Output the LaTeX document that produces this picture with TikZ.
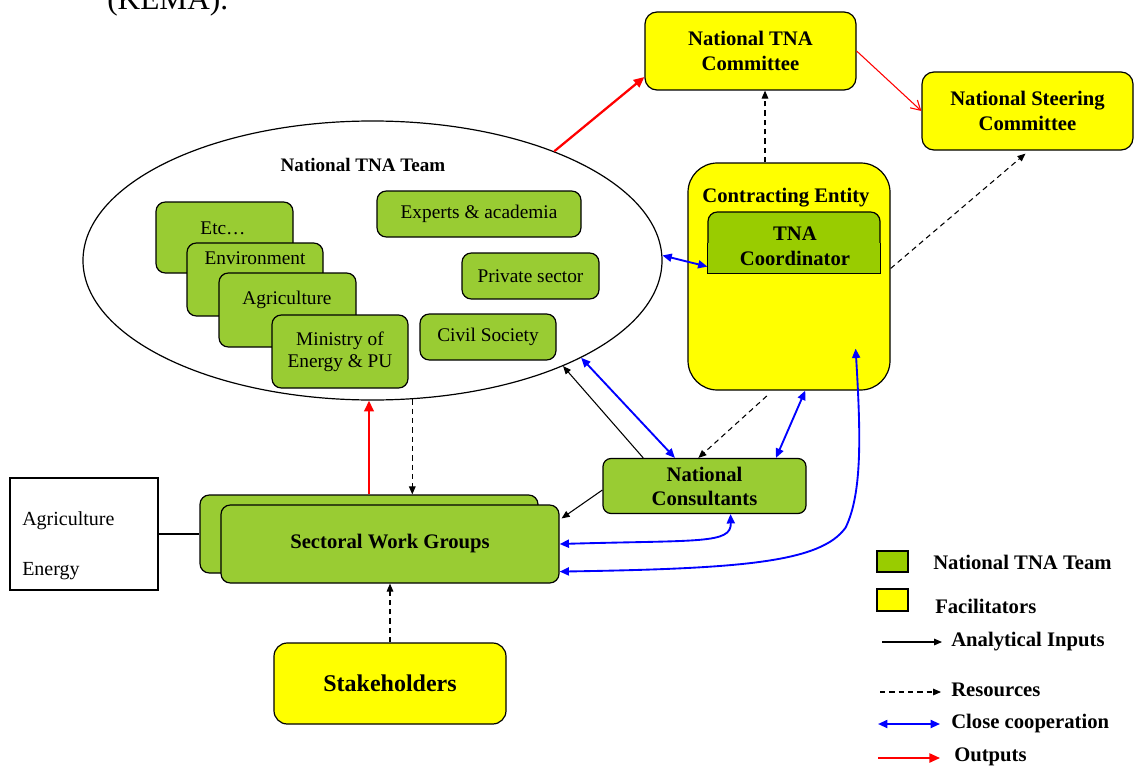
\documentclass[tikz,border=0pt]{standalone}
\usepackage{fontspec}
\setmainfont{Liberation Serif}
\usetikzlibrary{shapes.geometric,arrows.meta,calc}
\definecolor{lgreen}{HTML}{99CC33}
\definecolor{dgreen}{HTML}{99CC00}
\definecolor{yel}{HTML}{FFFF00}
\definecolor{bl}{HTML}{0000FF}
\definecolor{rd}{HTML}{FF0000}
\begin{document}
\begin{tikzpicture}[x=0.75pt,y=-0.75pt,
  wh/.style 2 args={minimum width=#1*0.75pt, minimum height=#2*0.75pt},
  gbox/.style={draw=black, line width=0.9pt, fill=lgreen, rounded corners=7pt, inner sep=0pt, align=center, font=\fontsize{14.5}{16.5}\selectfont},
  ybox/.style={draw=black, line width=0.9pt, fill=yel, rounded corners=9pt, inner sep=0pt, align=center, font=\bfseries\fontsize{15.5}{18.75}\selectfont},
  txt/.style={inner sep=0pt, align=center, font=\fontsize{14.5}{16.5}\selectfont},
  btxt/.style={inner sep=0pt, align=center, font=\bfseries\fontsize{15.5}{18.75}\selectfont},
  ai/.style={-{Triangle[length=6pt,width=5pt]}, line width=0.8pt, black},
  res/.style={ai, dash pattern=on 4pt off 3pt},
  coop/.style={{Triangle[length=7pt,width=6pt]}-{Triangle[length=7pt,width=6pt]}, line width=1.4pt, bl},
  outp/.style={-{Triangle[length=8pt,width=7pt]}, line width=1.7pt, rd},
  outthin/.style={-{Straight Barb[length=7pt,width=8pt]}, line width=0.8pt, rd}
]
\useasboundingbox (0,0) rectangle (1135,767);

% top cut text
\node[anchor=base west, inner sep=0pt, font=\fontsize{23.5}{28}\selectfont] (kema) at (107,9.5) {(KEMA).};

% national TNA team ellipse
\node[ellipse, draw=black, line width=0.9pt, wh={579}{279}, inner sep=0pt] (team) at (372.5,260.5) {};
\node[btxt, font=\bfseries\fontsize{14.3}{17}\selectfont] (teamlbl) at (363,165) {National TNA Team};

% left stack
\node[gbox, wh={137}{71}] (etc) at (224.5,237.5) {};
\node[txt] (etclbl) at (223,228) {Etc\ldots};
\node[gbox, wh={136}{73}] (env) at (255,279.5) {};
\node[txt] (envlbl) at (255,258) {Environment};
\node[gbox, wh={137}{74}] (agr) at (287.5,310) {};
\node[txt] (agrlbl) at (287,300) {Agriculture};
\node[gbox, wh={136}{73}] (min) at (340,351.5) {Ministry of\\Energy \& PU};

\node[gbox, wh={204}{46}] (exp) at (479,214) {Experts \& academia};
\node[gbox, wh={137}{46}] (priv) at (530.5,276) {Private sector};
\node[gbox, wh={136}{46}] (civ) at (488,337) {Civil Society};

% committees
\node[ybox, wh={211}{78}] (ntc) at (750.5,51) {National TNA\\Committee};
\node[ybox, wh={211}{78}] (nsc) at (1027.5,111) {National Steering\\Committee};

% contracting entity
\node[ybox, rounded corners=22pt, wh={202}{227}] (ce) at (789,276.5) {};
\node[btxt] (celbl) at (786,198) {Contracting Entity};
\node[draw=black, line width=0.9pt, fill=dgreen, rounded corners=7pt, wh={172}{61}, inner sep=0pt] (coord) at (794,242.5) {};
\fill[dgreen] (coord.west) rectangle (coord.south east);
\draw[line width=0.9pt] (coord.west) |- (coord.south east) -- (coord.east);
\node[btxt] (coordlbl) at (795,246.5) {TNA\\Coordinator};

% consultants
\node[gbox, rounded corners=6pt, wh={203}{55}, font=\bfseries\fontsize{15.5}{18}\selectfont] (nc) at (704.5,486) {National\\Consultants};

% sectoral work groups
\node[gbox, wh={338}{78}] (swgb) at (369,534) {};
\node[gbox, wh={338}{78}, font=\bfseries\fontsize{15.5}{18}\selectfont] (swgf) at (390,544) {Sectoral Work Groups};

% agriculture / energy box
\node[draw=black, line width=0.8pt, fill=white, wh={148}{112}] (ae) at (84,534) {};
\node[txt, anchor=west, font=\fontsize{15}{18}\selectfont] (aeag) at (22,521) {Agriculture};
\node[txt, anchor=west, font=\fontsize{15}{18}\selectfont] (aeen) at (22,571) {Energy};
\draw[line width=0.8pt] (ae.east) -- (swgb.west);

% stakeholders
\node[ybox, rounded corners=10pt, wh={232}{81}, font=\bfseries\fontsize{18}{21}\selectfont] (stake) at (390,683.5) {Stakeholders};

% connectors
\draw[outp] (team.31) -- ($(ntc.west)+(0,26)$);
\draw[outthin] (ntc.east) -- (nsc.west);
\coordinate (ceTop) at ($(ce.north)+(-24,0)$);
\draw[res] (ceTop) -- (ceTop |- ntc.south);
\draw[res] ($(ce.east)+(0,-8)$) -- ($(nsc.south)+(-2,3)$);
\draw[coop] (team.1) -- ($(coord.south west)+(0,-7)$);
\draw[outp] (swgb.north) -- (swgb.north |- team.south);
\draw[res] (team.286) -- (team.286 |- swgb.north);
\draw[ai] ($(nc.north west)!0.2!(nc.north east)$) -- (team.331);
\draw[coop] (team.335) -- ($(nc.north west)!0.355!(nc.north east)$);
\draw[res, shorten <=6pt] ($(ce.south west)!0.42!(ce.south east)$) -- ($(nc.north west)!0.47!(nc.north east)$);
\draw[coop] ($(ce.south west)!0.58!(ce.south east)$) -- ($(nc.north west)!0.85!(nc.north east)$);
\draw[ai] ($(nc.west)+(0,4)$) -- ($(swgf.north east)+(2,14)$);
\draw[coop] ($(nc.south)+(26,0)$) .. controls +(1,30) and +(140,-4) .. (swgf.east);
\coordinate (bigs) at ($(ce.south east)+(-35,-42)$);
\coordinate (bigm) at ($(ce.south east)+(-45,137)$);
\draw[coop] (bigs) .. controls ($(bigs)+(5,84)$) and ($(bigm)+(17,-35)$) .. (bigm)
  .. controls ($(bigm)+(-25,35)$) and ($(swgf.south east)+(181,-15)$) .. ($(swgf.south east)+(0,-12)$);
\draw[res] (stake.north) -- (swgf.south);

% legend
\node[draw=black, line width=1pt, fill=dgreen, wh={31}{21}, inner sep=0pt] (lg1) at (892.5,561.5) {};
\node[btxt, anchor=west] (lgt1) at (933,562) {National TNA Team};
\node[draw=black, line width=1pt, fill=yel, wh={31}{22}, inner sep=0pt] (lg2) at (892.5,600) {};
\node[btxt, anchor=west] (lgt2) at (935,606) {Facilitators};
\coordinate (la1) at (882,642); \coordinate (lb1) at (942,642);
\draw[ai] (la1) -- (lb1);
\node[btxt, anchor=west] (lgt3) at (951,642) {Analytical Inputs};
\coordinate (la2) at (880,692); \coordinate (lb2) at (941,692);
\draw[res] (la2) -- (lb2);
\node[btxt, anchor=west] (lgt4) at (951,690) {Resources};
\coordinate (la3) at (878,724); \coordinate (lb3) at (940,724);
\draw[coop] (la3) -- (lb3);
\node[btxt, anchor=west] (lgt5) at (951,724) {Close cooperation};
\coordinate (la4) at (878,758); \coordinate (lb4) at (940,758);
\draw[outp, line width=1.2pt] (la4) -- (lb4);
\node[btxt, anchor=west] (lgt6) at (954,757) {Outputs};
\end{tikzpicture}
\end{document}
